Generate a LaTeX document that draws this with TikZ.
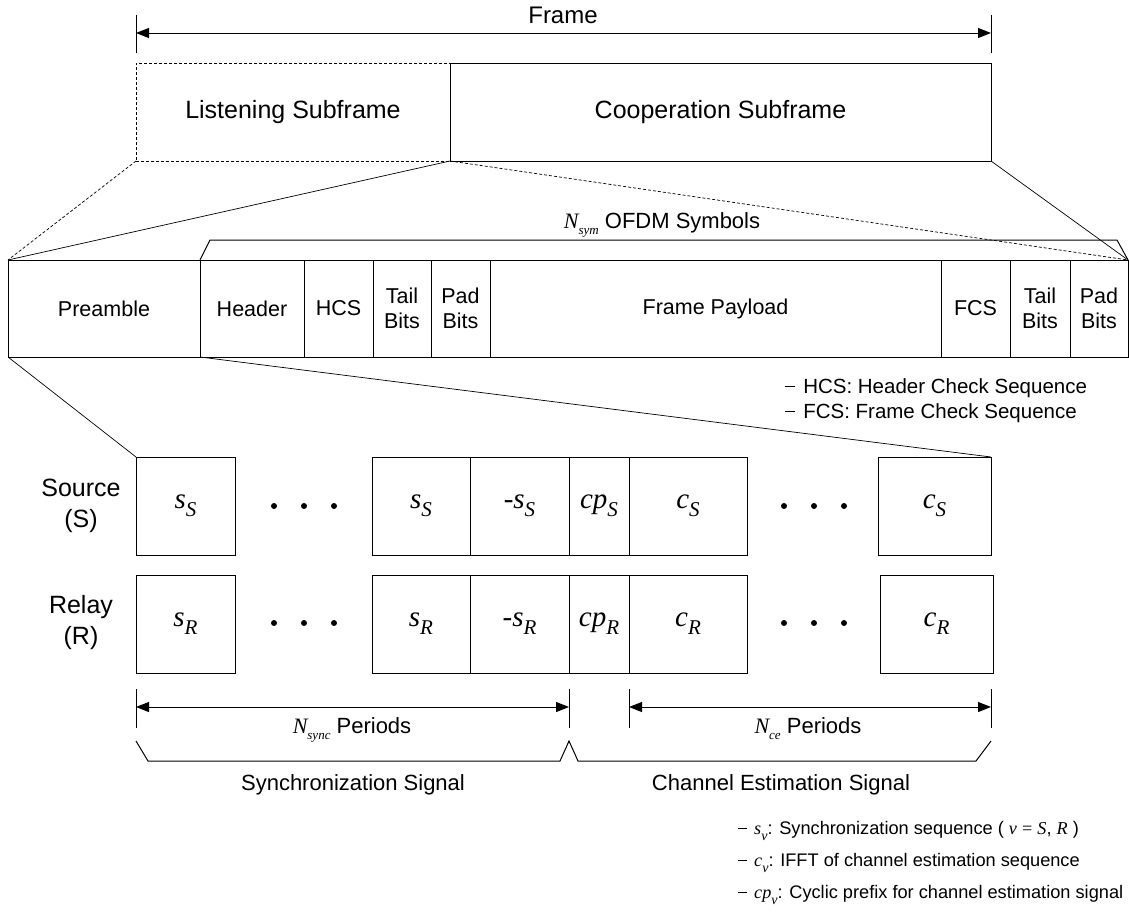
\documentclass[tikz,border=0pt]{standalone}
\usepackage{fontspec}
\setmainfont{Liberation Sans}
\newfontfamily\tms{Liberation Serif}
\usetikzlibrary{arrows.meta, positioning}

% italic symbol with lowered subscript (box, label and note sizes)
\newcommand{\symb}[2]{{\tms\itshape #1\raisebox{-8pt}{\fontsize{21}{21}\selectfont #2}}}
\newcommand{\symn}[2]{{\tms\itshape #1\raisebox{-6pt}{\fontsize{13}{13}\selectfont #2}}}
\newcommand{\syml}[2]{{\tms\itshape #1\raisebox{-6pt}{\fontsize{14}{14}\selectfont #2}}}
% short dash in front of the notes
\newcommand{\ldash}{\rule[0.3em]{0.5em}{0.8pt}\hspace{0.4em}}

\begin{document}
\begin{tikzpicture}[x=1pt, y=-1pt, line width=1pt,
    box/.style={draw, rectangle, outer sep=0pt, inner sep=0pt, anchor=north west, minimum height=98, font=\fontsize{25}{30}\selectfont},
    seg/.style={draw, rectangle, outer sep=0pt, inner sep=0pt, minimum height=97, align=center, font=\fontsize{21.5}{25}\selectfont},
    cell/.style={draw, rectangle, outer sep=0pt, inner sep=0pt, minimum height=98, font=\fontsize{29}{30}\selectfont},
    lbl/.style={font=\fontsize{22}{26}\selectfont},
    note/.style={anchor=west, font=\fontsize{20.5}{24}\selectfont},
    dim/.style={{Triangle[length=13pt,width=10pt]}-{Triangle[length=13pt,width=10pt]}},
    fine/.style={line width=0.7pt},
    finedash/.style={line width=0.7pt, dash pattern=on 3pt off 2pt},
  ]
  \useasboundingbox (0,0) rectangle (1129,916);

  % frame and subframes
  \node[box, dash pattern=on 3pt off 2pt, minimum width=314] (listen) at (136,63) {Listening Subframe};
  \node[box, minimum width=541] (coop) at (450,63) {Cooperation Subframe};
  \coordinate (fl) at ([yshift=30pt]listen.north west);
  \coordinate (fr) at ([yshift=30pt]coop.north east);
  \draw[dim] (fl) -- (fr);
  \draw ([yshift=18pt]fl) -- ([yshift=-20pt]fl);
  \draw ([yshift=18pt]fr) -- ([yshift=-20pt]fr);
  \node[font=\fontsize{24}{28}\selectfont] (frametxt) at (563,15) {Frame};

  % PPDU row
  \node[seg, minimum width=192, anchor=north west] (pre) at (8,260) {Preamble};
  \node[seg, minimum width=104, right=0pt of pre] (hdr) {Header};
  \node[seg, minimum width=69, right=0pt of hdr] (hcs) {HCS};
  \node[seg, minimum width=58, right=0pt of hcs] (tail1) {Tail\\Bits};
  \node[seg, minimum width=59, right=0pt of tail1] (pad1) {Pad\\Bits};
  \node[seg, minimum width=451, right=0pt of pad1] (pay) {Frame Payload};
  \node[seg, minimum width=69, right=0pt of pay] (fcs) {FCS};
  \node[seg, minimum width=60, right=0pt of fcs] (tail2) {Tail\\Bits};
  \node[seg, minimum width=58, right=0pt of tail2] (pad2) {Pad\\Bits};

  \draw[finedash] (listen.south west) -- (pre.north west);
  \draw[finedash] (listen.south east) -- (pad2.north east);
  \draw[fine] (coop.south west) -- (pre.north west);
  \draw[fine] (coop.south east) -- (pad2.north east);

  \draw (hdr.north west) -- ([shift={(10pt,20pt)}]hdr.north west) -- ([shift={(-11pt,20pt)}]pad2.north east) -- (pad2.north east);
  \node[lbl, anchor=base] (nsym) at (662,228) {\symn{N}{sym} OFDM Symbols};

  \node[note] (hcsnote) at (781,388) {\ldash HCS: Header Check Sequence};
  \node[note] (fcsnote) at (781,413) {\ldash FCS: Frame Check Sequence};

  % source and relay rows
  \node[lbl, align=center, font=\fontsize{25}{31}\selectfont] (srclbl) at (81,506) {Source\\(S)};
  \node[lbl, align=center, font=\fontsize{25}{31}\selectfont] (rlylbl) at (81,623) {Relay\\(R)};

  \node[cell, minimum width=99, anchor=north west] (ss1) at (136,457) {\symb{s}{S}};
  \node[cell, minimum width=98, anchor=north west] (ss2) at (372,457) {\symb{s}{S}};
  \node[cell, minimum width=99, right=0pt of ss2] (mss) {{\tms -}\symb{s}{S}};
  \node[cell, minimum width=60, right=0pt of mss] (cps) {\symb{cp}{S}};
  \node[cell, minimum width=118, right=0pt of cps] (cs1) {\symb{c}{S}};
  \node[cell, minimum width=113, anchor=north west] (cs2) at (878,457) {\symb{c}{S}};

  \node[cell, minimum width=99, anchor=north west] (sr1) at (136,575) {\symb{s}{R}};
  \node[cell, minimum width=98, anchor=north west] (sr2) at (372,575) {\symb{s}{R}};
  \node[cell, minimum width=99, right=0pt of sr2] (msr) {{\tms -}\symb{s}{R}};
  \node[cell, minimum width=60, right=0pt of msr] (cpr) {\symb{cp}{R}};
  \node[cell, minimum width=118, right=0pt of cpr] (cr1) {\symb{c}{R}};
  \node[cell, minimum width=113, anchor=north west] (cr2) at (880,575) {\symb{c}{R}};

  \foreach \x in {274,304,334,784,814,844} {
    \fill (\x,506) circle (3pt);
    \fill (\x,623) circle (3pt);
  }

  \draw[fine] (pre.south west) -- (ss1.north west);
  \draw[fine] (hdr.south west) -- (cs2.north east);

  % periods
  \coordinate (d1) at ([yshift=-34pt]sr1.south west);
  \coordinate (d2) at (msr.east |- d1);
  \coordinate (d3) at (cpr.east |- d1);
  \coordinate (d4) at (cs2.east |- d1);
  \draw[dim] (d1) -- (d2);
  \draw[dim] (d3) -- (d4);
  \foreach \c in {d1,d2,d3,d4}
    \draw ([yshift=18pt]\c) -- ([yshift=-21pt]\c);
  \node[lbl, anchor=base] (nsync) at (352,733) {\symn{N}{sync} Periods};
  \node[lbl, anchor=base] (nce) at (808,733) {\symn{N}{ce} Periods};

  \draw ([yshift=-34pt]d1) -- ([shift={(12pt,-54pt)}]d1) -- ([shift={(-9pt,-54pt)}]d2) -- ([yshift=-34pt]d2)
    -- ([shift={(9pt,-54pt)}]d2) -- ([shift={(-15pt,-54pt)}]d4) -- ([yshift=-34pt]d4);
  \node[lbl] (synctxt) at (353,785) {Synchronization Signal};
  \node[lbl] (cetxt) at (781,785) {Channel Estimation Signal};

  % notation
  \node[note, font=\fontsize{18.2}{22}\selectfont] (svnote) at (734,831) {\ldash\syml{s}{v}: Synchronization sequence ( {\tms\itshape v} {\tms =} {\tms\itshape S}, {\tms\itshape R} )};
  \node[note, font=\fontsize{18.2}{22}\selectfont] (cvnote) at (734,863) {\ldash\syml{c}{v}: IFFT of channel estimation sequence};
  \node[note, font=\fontsize{18.2}{22}\selectfont] (cpnote) at (734,895) {\ldash\syml{cp}{v}: Cyclic prefix for channel estimation signal};
\end{tikzpicture}
\end{document}
